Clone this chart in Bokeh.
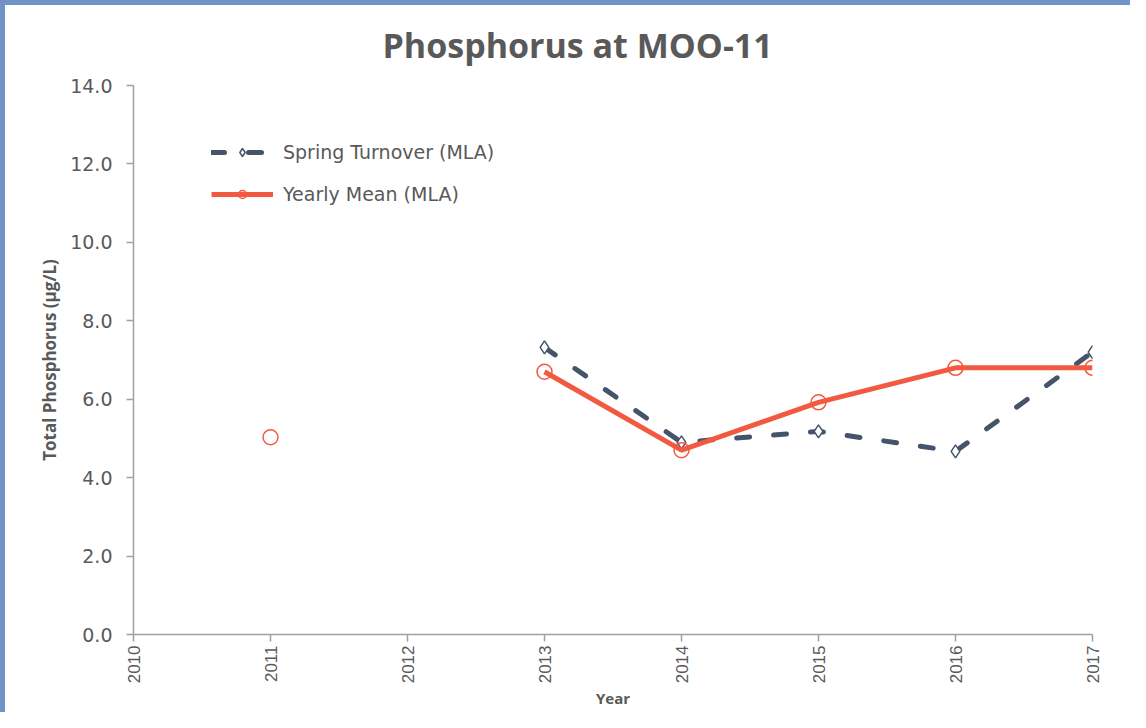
import math
from bokeh.plotting import figure
from bokeh.models import Legend, LegendItem, NumeralTickFormatter, FixedTicker
from bokeh.embed import file_html
from bokeh.resources import INLINE

nan = float("nan")
years = [2010, 2011, 2012, 2013, 2014, 2015, 2016, 2017]
spring = [nan, nan, nan, 7.32, 4.9, 5.18, 4.67, 7.2]
yearly = [nan, 5.03, nan, 6.7, 4.7, 5.92, 6.8, 6.8]
y_ticks = [0, 2, 4, 6, 8, 10, 12, 14]
title_text = "Phosphorus at MOO-11"

NAVY = "#44546a"
RED = "#f15a40"
GRAY = "#595959"
AXIS = "#a0a0a0"

p = figure(width=1130, height=712, output_backend="svg", toolbar_location=None,
           x_range=(2010, 2017), y_range=(0, 14),
           min_border_left=133, min_border_right=38, min_border_top=85, min_border_bottom=78)
p.styles = {"box-shadow": "inset 5px 5px 0 0 #7094c8"}
p.border_fill_color = None
p.background_fill_color = "white"
p.outline_line_color = None
p.grid.visible = False

p.title.text = title_text
p.title.text_font = "Open Sans"
p.title.text_font_size = "34px"
p.title.text_font_style = "bold"
p.title.text_color = GRAY
p.title.align = "left"
p.title.offset = 249
p.title.standoff = 35

for ax in (p.xaxis[0], p.yaxis[0]):
    ax.axis_line_color = AXIS
    ax.axis_line_width = 1.5
    ax.major_tick_line_color = AXIS
    ax.major_tick_line_width = 1.5
    ax.major_tick_out = 7
    ax.major_tick_in = 0
    ax.minor_tick_line_color = None
    ax.major_label_text_color = GRAY
    ax.axis_label_text_font = "Open Sans"
    ax.axis_label_text_font_style = "bold"
    ax.axis_label_text_color = GRAY

p.xaxis.ticker = FixedTicker(ticks=years)
p.xaxis.major_label_orientation = math.pi / 2
p.xaxis.major_label_text_font = "Liberation Sans"
p.xaxis.major_label_text_font_size = "17px"
p.xaxis.major_label_standoff = 4
p.xaxis.axis_label = "Year"
p.xaxis.axis_label_text_font_size = "15px"
p.xaxis.axis_label_text_line_height = 1.0
p.xaxis.axis_label_standoff = 2

p.yaxis.ticker = FixedTicker(ticks=y_ticks)
p.yaxis.formatter = NumeralTickFormatter(format="0.0")
p.yaxis.major_label_text_font = "DejaVu Sans"
p.yaxis.major_label_text_font_size = "19px"
p.yaxis.major_label_standoff = 14
p.yaxis.axis_label = "Total Phosphorus (µg/L)"
p.yaxis.axis_label_text_font_size = "17px"
p.yaxis.axis_label_standoff = 6

sl = p.line(years, spring, line_color=NAVY, line_width=5, line_dash="13 24", line_cap="round")
sm = p.scatter(years, spring, marker="diamond", size=13, fill_color="white",
               line_color=NAVY, line_width=1.5)
yl = p.line(years, yearly, line_color=RED, line_width=5)
ym = p.scatter(years, yearly, marker="circle", size=15, fill_color=None,
               line_color=RED, line_width=1.5)

legend = Legend(items=[LegendItem(label="Spring Turnover (MLA)", renderers=[sl, sm]),
                       LegendItem(label="Yearly Mean (MLA)", renderers=[yl, ym])],
                location=(78, 429), orientation="vertical")
legend.border_line_color = None
legend.background_fill_alpha = 0
legend.label_text_font = "DejaVu Sans"
legend.label_text_font_size = "19px"
legend.label_text_color = GRAY
legend.glyph_width = 62
legend.glyph_height = 20
legend.label_height = 20
legend.label_standoff = 10
legend.spacing = 20
legend.padding = 0
legend.margin = 0
p.add_layout(legend)

open("out.html", "w").write(file_html(p, INLINE))
